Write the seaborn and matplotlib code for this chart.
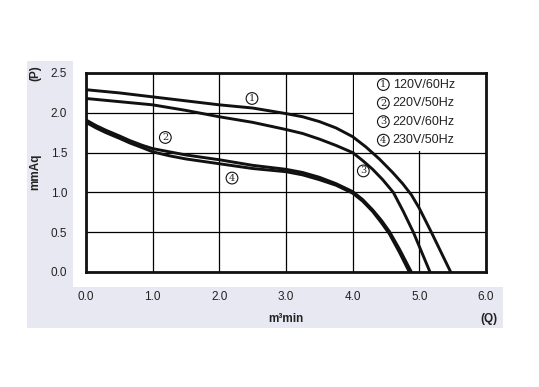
import pandas as pd
import numpy as np
import matplotlib
matplotlib.use('Agg')
import matplotlib.pyplot as plt
from matplotlib.patches import Rectangle
import seaborn as sns

# Curvas (caudal Q en m3/min, presion P en mmAq)
q_120_60 = [0, 0.5, 1.0, 1.5, 2.0, 2.5, 3.0, 3.25, 3.5, 3.75, 4.0, 4.2, 4.4, 4.6, 4.75, 4.88, 5.0, 5.18, 5.47]
p_120_60 = [2.29, 2.25, 2.20, 2.15, 2.10, 2.06, 1.99, 1.95, 1.89, 1.81, 1.70, 1.57, 1.42, 1.25, 1.11, 0.97, 0.80, 0.50, 0.0]

q_220_50 = [0, 0.15, 0.3, 0.5, 0.66, 0.85, 1.0, 1.25, 1.5, 2.0, 2.5, 3.0, 3.25, 3.5, 3.75, 4.0, 4.15, 4.3, 4.43, 4.55, 4.7, 4.88]
p_220_50 = [1.91, 1.84, 1.78, 1.71, 1.65, 1.59, 1.55, 1.51, 1.47, 1.41, 1.34, 1.29, 1.25, 1.19, 1.11, 1.01, 0.91, 0.78, 0.65, 0.51, 0.29, 0.0]

q_220_60 = [0, 0.5, 1.0, 1.5, 2.0, 2.5, 3.0, 3.25, 3.5, 3.75, 4.0, 4.15, 4.3, 4.45, 4.61, 4.76, 4.91, 5.16]
p_220_60 = [2.18, 2.14, 2.10, 2.03, 1.95, 1.88, 1.79, 1.74, 1.67, 1.59, 1.50, 1.40, 1.29, 1.16, 1.00, 0.76, 0.50, 0.0]

q_230_50 = [0, 0.15, 0.3, 0.5, 0.66, 0.85, 1.0, 1.25, 1.5, 2.0, 2.5, 3.0, 3.25, 3.5, 3.75, 4.0, 4.15, 4.3, 4.43, 4.55, 4.7, 4.85]
p_230_50 = [1.88, 1.81, 1.75, 1.68, 1.62, 1.56, 1.51, 1.46, 1.42, 1.36, 1.30, 1.26, 1.22, 1.16, 1.09, 0.99, 0.89, 0.76, 0.62, 0.48, 0.25, 0.0]

leyenda = ['120V/60Hz', '220V/50Hz', '220V/60Hz', '230V/50Hz']
numeros = ['1', '2', '3', '4']
x_ticks = [0, 1, 2, 3, 4, 5, 6]
y_ticks = [0, 0.5, 1.0, 1.5, 2.0, 2.5]

curvas = [(q_120_60, p_120_60), (q_220_50, p_220_50), (q_220_60, p_220_60), (q_230_50, p_230_50)]
df = pd.concat([pd.DataFrame({'Q': q, 'P': p, 'curva': leyenda[i]}) for i, (q, p) in enumerate(curvas)])

sns.set_style('white')
plt.rcParams['font.family'] = ['Liberation Sans', 'DejaVu Sans']

fig = plt.figure(figsize=(5.39, 3.87), dpi=100)

# Fondo lavanda en forma de L y zona blanca del grafico
fig.add_artist(Rectangle((27/539, 1-328/387), 476/539, 267/387, transform=fig.transFigure,
                         fc='#e8e8f2', ec='none', zorder=-10))
fig.add_artist(Rectangle((73/539, 1-287/387), 430/539, 226/387, transform=fig.transFigure,
                         fc='white', ec='none', zorder=-9))

ax = fig.add_axes([86/539, 1-272/387, 400/539, 199/387])
ax.patch.set_alpha(0)

sns.lineplot(data=df, x='Q', y='P', hue='curva', palette=['#111111']*4, linewidth=2.1,
             legend=False, sort=False, ax=ax, zorder=3)
for ln in ax.get_lines():
    ln.set_solid_joinstyle('round')

ax.set_xlim(0, 6)
ax.set_ylim(0, 2.5)
ax.set_xticks(x_ticks)
ax.set_xticklabels([f'{v:.1f}' for v in x_ticks])
ax.set_yticks(y_ticks)
ax.set_yticklabels([f'{v:.1f}' for v in y_ticks])
ax.tick_params(length=0, pad=13.5, labelsize=8.5, labelcolor='#222222')
ax.set_xlabel('')
ax.set_ylabel('')
ax.grid(True, color='black', linewidth=0.9)
ax.set_axisbelow(True)
for s in ax.spines.values():
    s.set_linewidth(2)
    s.set_color('#111111')
    s.set_zorder(5)

# Caja de la leyenda sin rejilla
ax.add_patch(Rectangle((4.02, 1.52), 1.98, 0.98, fc='white', ec='none', zorder=1))

circ = dict(boxstyle='circle,pad=0.14', fc='white', ec='#111111', lw=0.8)
for i, txt in enumerate(leyenda):
    y = 2.355 - i * 0.233
    ax.text(4.46, y, numeros[i], ha='center', va='center', fontsize=7, family='DejaVu Serif',
            bbox=circ, zorder=6)
    ax.text(4.6, y, txt, ha='left', va='center', fontsize=9, color='#222222', zorder=6)

# Numeros sobre las curvas
etiquetas = [(2.49, 2.18), (1.19, 1.69), (4.16, 1.27), (2.19, 1.18)]
for i, (x, y) in enumerate(etiquetas):
    ax.text(x, y, numeros[i], ha='center', va='center', fontsize=7, family='DejaVu Serif',
            bbox=circ, zorder=6)

fig.text(35/539, 1-172/387, 'mmAq', rotation=90, ha='center', va='center', fontsize=8.5,
         fontweight='bold', color='#222222')
fig.text(35/539, 1-73/387, '(P)', rotation=90, ha='center', va='center', fontsize=8.5,
         fontweight='bold', color='#222222')
fig.text(286/539, 1-319/387, 'm³min', ha='center', va='center', fontsize=8.5,
         fontweight='bold', color='#222222')
fig.text(489/539, 1-319/387, '(Q)', ha='center', va='center', fontsize=8.5,
         fontweight='bold', color='#222222')

fig.savefig('out.png', dpi=100)
